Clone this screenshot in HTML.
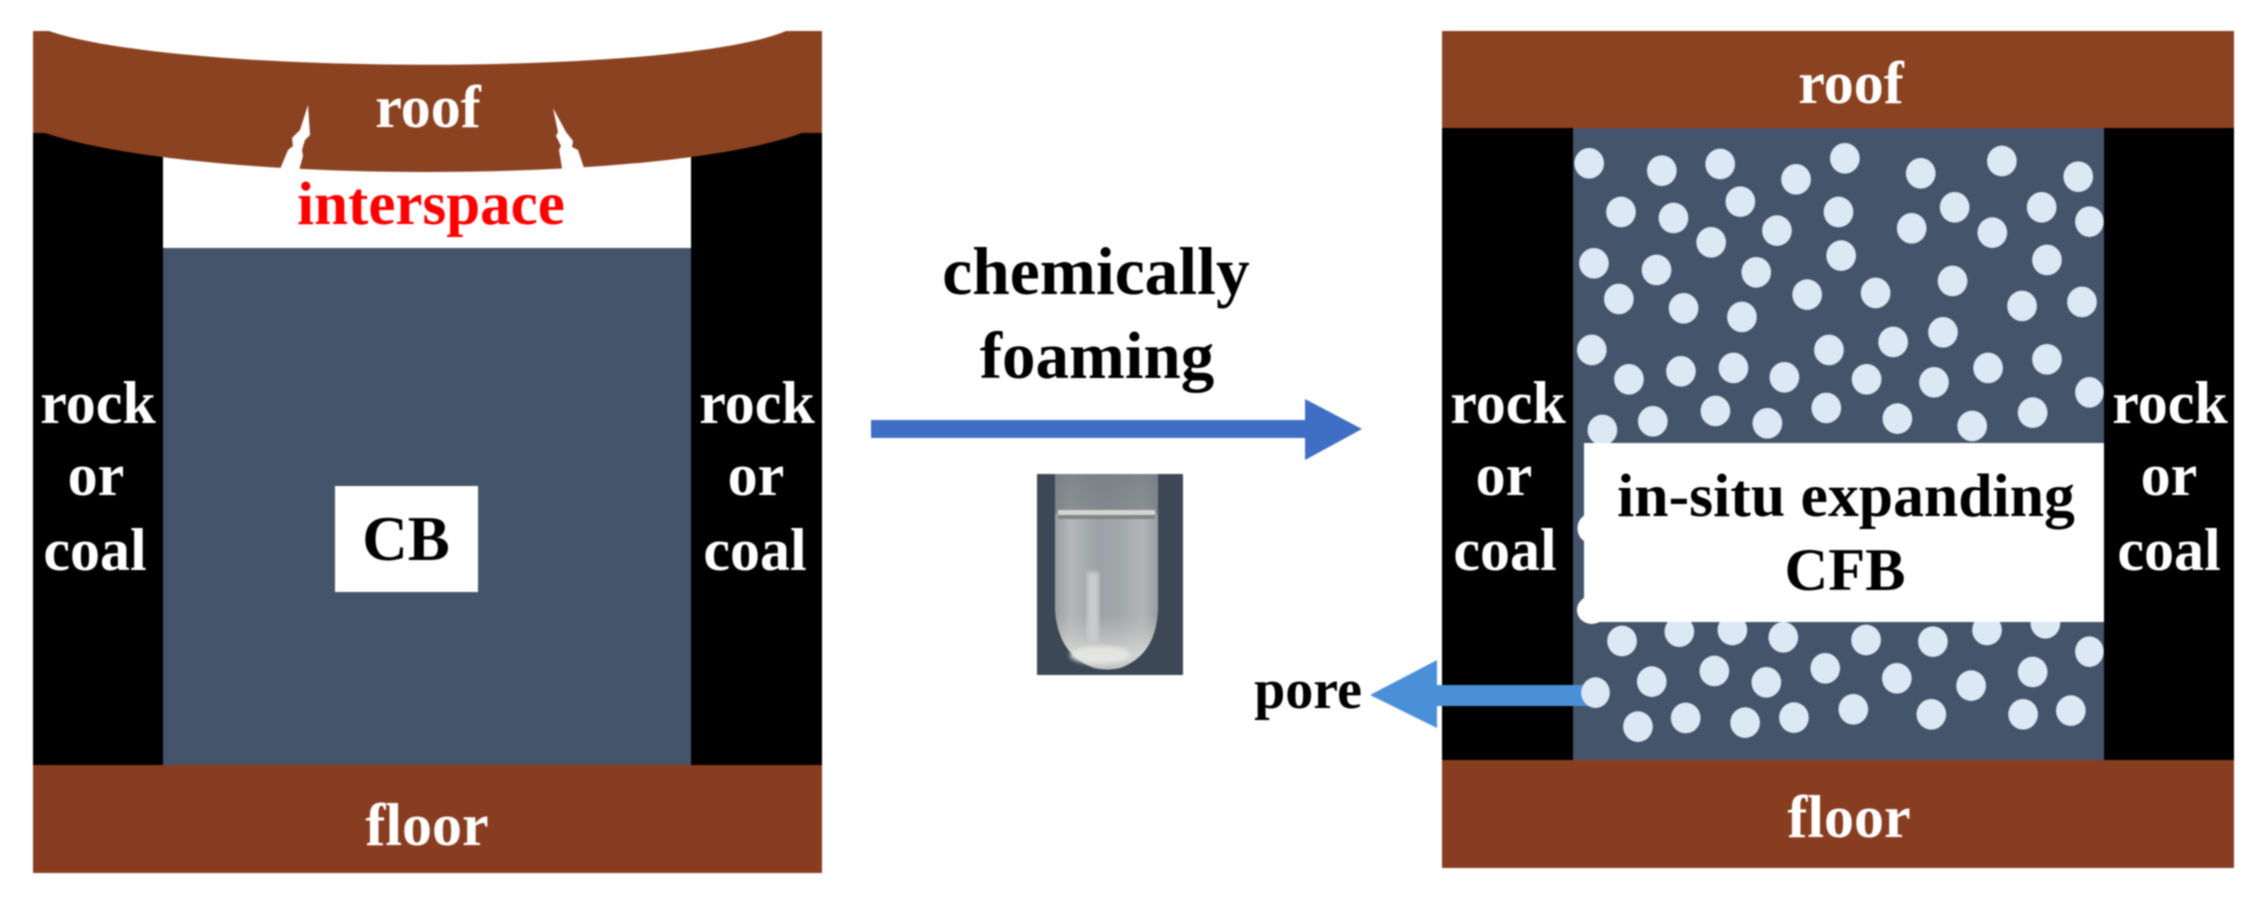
<!DOCTYPE html>
<html>
<head>
<meta charset="utf-8">
<style>
html,body{margin:0;padding:0;background:#fff;width:2262px;height:899px;overflow:hidden}
svg{display:block;filter:blur(0.9px)}
text{font-family:"Liberation Serif",serif;font-weight:bold;text-anchor:middle;font-size:60px}
.w{fill:#fff}
.k{fill:#000}
.c ellipse{fill:#dce8f3}
</style>
</head>
<body>
<svg width="2262" height="899" viewBox="0 0 2262 899" xmlns="http://www.w3.org/2000/svg">
<defs>
<linearGradient id="tube" x1="0" y1="0" x2="1" y2="0">
<stop offset="0" stop-color="#9a9fa1"/><stop offset=".15" stop-color="#b4b8b8"/><stop offset=".42" stop-color="#9ba1a5"/><stop offset=".62" stop-color="#a2a7aa"/><stop offset=".85" stop-color="#b2b6b6"/><stop offset="1" stop-color="#989da0"/>
</linearGradient>
<linearGradient id="tube2" x1="0" y1="0" x2="0" y2="1">
<stop offset="0" stop-color="#6f777c" stop-opacity=".75"/><stop offset=".19" stop-color="#6f777c" stop-opacity=".6"/><stop offset=".22" stop-color="#8f9698" stop-opacity="0"/><stop offset=".72" stop-color="#c8cbc8" stop-opacity="0"/><stop offset=".92" stop-color="#d8dad6" stop-opacity=".85"/><stop offset="1" stop-color="#d4d6d2" stop-opacity=".6"/>
</linearGradient>
<filter id="soft"><feGaussianBlur stdDeviation="2"/></filter>
</defs>

<!-- LEFT PANEL -->
<rect x="33" y="133" width="130" height="632" fill="#000"/>
<rect x="691" y="133" width="131" height="632" fill="#000"/>
<rect x="163" y="248" width="528" height="517" fill="#44546a"/>
<path d="M33 31 L49 31 C180 76 680 76 786 31 L822 31 L822 133 L802 133 C660 185 200 185 45 133 L33 133 Z" fill="#8b4220"/>
<path d="M308 105 L310 135 L305 140 L302 150 L303 156 L298 174 L278 174 L288 150 L293 146 L292 138 L300 130 Z" fill="#fff"/>
<path d="M553 108 L558 132 L556 136 L561 146 L559 150 L563 174 L586 174 L578 150 L572 147 L573 141 L566 132 Z" fill="#fff"/>
<rect x="33" y="765" width="789" height="108" fill="#893d20"/>
<rect x="335" y="486" width="143" height="106" fill="#fff"/>

<text class="w" x="428" y="127">roof</text>
<text x="431" y="224" fill="#f00" style="font-size:61px">interspace</text>
<text class="w" x="98" y="423">rock</text>
<text class="w" x="96" y="495">or</text>
<text class="w" x="95" y="570">coal</text>
<text class="w" x="757" y="423">rock</text>
<text class="w" x="756" y="495">or</text>
<text class="w" x="755" y="570">coal</text>
<text class="k" x="406" y="560" style="font-size:63px">CB</text>
<text class="w" x="427" y="845">floor</text>

<!-- MIDDLE -->
<text class="k" x="1096" y="294" style="font-size:67.5px">chemically</text>
<text class="k" x="1097" y="378" style="font-size:67px">foaming</text>
<path d="M871 420 H1305 V399 L1362 429 L1305 460 V438 H871 Z" fill="#3f6fc4"/>

<rect x="1037" y="474" width="146" height="201" fill="#3c4856"/>
<path d="M1055 474 H1158 V610 Q1156 655 1120 668 Q1107 671 1094 668 Q1058 655 1055 610 Z" fill="url(#tube)"/>
<path d="M1055 474 H1158 V610 Q1156 655 1120 668 Q1107 671 1094 668 Q1058 655 1055 610 Z" fill="url(#tube2)"/>
<rect x="1058" y="510" width="97" height="5" fill="#d6d5cd"/>
<rect x="1058" y="515" width="97" height="4" fill="#80878b"/>
<rect x="1087" y="572" width="12" height="70" fill="#c9cccc" filter="url(#soft)"/>
<ellipse cx="1100" cy="655" rx="30" ry="9" fill="#e4e5e1" filter="url(#soft)"/>

<!-- RIGHT PANEL -->
<rect x="1442" y="128" width="131" height="632" fill="#000"/>
<rect x="2104" y="128" width="130" height="632" fill="#000"/>
<rect x="1573" y="128" width="531" height="632" fill="#44546a"/>
<rect x="1442" y="31" width="792" height="97" fill="#8b4220"/>
<rect x="1442" y="760" width="792" height="108" fill="#893d20"/>

<g class="c" transform="translate(1430,0) scale(.5305,.3333)">
<ellipse cx="300" cy="490" rx="28" ry="46"/><ellipse cx="437" cy="512" rx="28" ry="46"/><ellipse cx="547" cy="492" rx="28" ry="46"/><ellipse cx="690" cy="538" rx="28" ry="46"/><ellipse cx="782" cy="475" rx="28" ry="46"/><ellipse cx="925" cy="520" rx="28" ry="46"/><ellipse cx="1078" cy="483" rx="28" ry="46"/><ellipse cx="1222" cy="530" rx="28" ry="46"/>
<ellipse cx="360" cy="636" rx="28" ry="46"/><ellipse cx="459" cy="654" rx="28" ry="46"/><ellipse cx="585" cy="605" rx="28" ry="46"/><ellipse cx="770" cy="636" rx="28" ry="46"/><ellipse cx="654" cy="692" rx="28" ry="46"/><ellipse cx="530" cy="727" rx="28" ry="46"/><ellipse cx="908" cy="685" rx="28" ry="46"/><ellipse cx="989" cy="622" rx="28" ry="46"/><ellipse cx="1060" cy="698" rx="28" ry="46"/><ellipse cx="1153" cy="622" rx="28" ry="46"/><ellipse cx="1243" cy="665" rx="27" ry="46"/>
<ellipse cx="309" cy="790" rx="28" ry="46"/><ellipse cx="427" cy="810" rx="28" ry="46"/><ellipse cx="615" cy="817" rx="28" ry="46"/><ellipse cx="775" cy="767" rx="28" ry="46"/><ellipse cx="1163" cy="780" rx="28" ry="46"/><ellipse cx="985" cy="843" rx="28" ry="46"/>
<ellipse cx="356" cy="897" rx="28" ry="46"/><ellipse cx="478" cy="925" rx="28" ry="46"/><ellipse cx="588" cy="951" rx="28" ry="46"/><ellipse cx="711" cy="884" rx="28" ry="46"/><ellipse cx="840" cy="879" rx="28" ry="46"/><ellipse cx="1116" cy="918" rx="28" ry="46"/><ellipse cx="1229" cy="906" rx="28" ry="46"/>
<ellipse cx="305" cy="1050" rx="28" ry="46"/><ellipse cx="752" cy="1050" rx="28" ry="46"/><ellipse cx="873" cy="1026" rx="28" ry="46"/><ellipse cx="967" cy="997" rx="28" ry="46"/>
<ellipse cx="375" cy="1138" rx="28" ry="46"/><ellipse cx="473" cy="1114" rx="28" ry="46"/><ellipse cx="572" cy="1104" rx="28" ry="46"/><ellipse cx="668" cy="1132" rx="28" ry="46"/><ellipse cx="823" cy="1138" rx="28" ry="46"/><ellipse cx="950" cy="1147" rx="28" ry="46"/><ellipse cx="1052" cy="1104" rx="28" ry="46"/><ellipse cx="1163" cy="1078" rx="28" ry="46"/><ellipse cx="1243" cy="1177" rx="27" ry="46"/>
<ellipse cx="325" cy="1290" rx="28" ry="46"/><ellipse cx="420" cy="1264" rx="28" ry="46"/><ellipse cx="538" cy="1233" rx="28" ry="46"/><ellipse cx="636" cy="1270" rx="28" ry="46"/><ellipse cx="747" cy="1224" rx="28" ry="46"/><ellipse cx="881" cy="1256" rx="28" ry="46"/><ellipse cx="1022" cy="1278" rx="28" ry="46"/><ellipse cx="1136" cy="1238" rx="28" ry="46"/>
</g>
<path d="M1437 685 V660 L1370 695 L1437 728 V706 H1592 V685 Z" fill="#4a90d9"/>
<g class="c" transform="translate(1430,450) scale(.5305,.3333)">
<ellipse cx="362" cy="573" rx="28" ry="46"/><ellipse cx="470" cy="545" rx="28" ry="46"/><ellipse cx="570" cy="540" rx="28" ry="46"/><ellipse cx="666" cy="562" rx="28" ry="46"/><ellipse cx="822" cy="570" rx="28" ry="46"/><ellipse cx="948" cy="575" rx="28" ry="46"/><ellipse cx="1050" cy="540" rx="28" ry="46"/><ellipse cx="1160" cy="520" rx="28" ry="46"/><ellipse cx="1243" cy="605" rx="27" ry="46"/>
<ellipse cx="418" cy="695" rx="28" ry="46"/><ellipse cx="536" cy="663" rx="28" ry="46"/><ellipse cx="634" cy="697" rx="28" ry="46"/><ellipse cx="745" cy="655" rx="28" ry="46"/><ellipse cx="880" cy="685" rx="28" ry="46"/><ellipse cx="1020" cy="707" rx="28" ry="46"/><ellipse cx="1136" cy="666" rx="28" ry="46"/><ellipse cx="312" cy="728" rx="27" ry="46"/>
<ellipse cx="392" cy="830" rx="28" ry="46"/><ellipse cx="482" cy="804" rx="28" ry="46"/><ellipse cx="594" cy="818" rx="28" ry="46"/><ellipse cx="686" cy="803" rx="28" ry="46"/><ellipse cx="798" cy="778" rx="28" ry="46"/><ellipse cx="945" cy="793" rx="28" ry="46"/><ellipse cx="1118" cy="793" rx="28" ry="46"/><ellipse cx="1208" cy="782" rx="28" ry="46"/>
<ellipse cx="300" cy="235" rx="22" ry="42" style="fill:#fff"/><ellipse cx="305" cy="480" rx="28" ry="42" style="fill:#fff"/>
</g>
<rect x="1584" y="443" width="520" height="179" fill="#fff"/>

<text class="w" x="1851" y="103">roof</text>
<text class="w" x="1849" y="837">floor</text>
<text class="w" x="1508" y="423">rock</text>
<text class="w" x="1504" y="495">or</text>
<text class="w" x="1505" y="570">coal</text>
<text class="w" x="2170" y="423">rock</text>
<text class="w" x="2169" y="495">or</text>
<text class="w" x="2169" y="570">coal</text>
<text class="k" x="1846" y="516" style="font-size:61.7px">in-situ expanding</text>
<text class="k" x="1845" y="590" style="font-size:60.5px">CFB</text>
<text class="k" x="1308" y="708" style="font-size:56px">pore</text>
</svg>
</body>
</html>
